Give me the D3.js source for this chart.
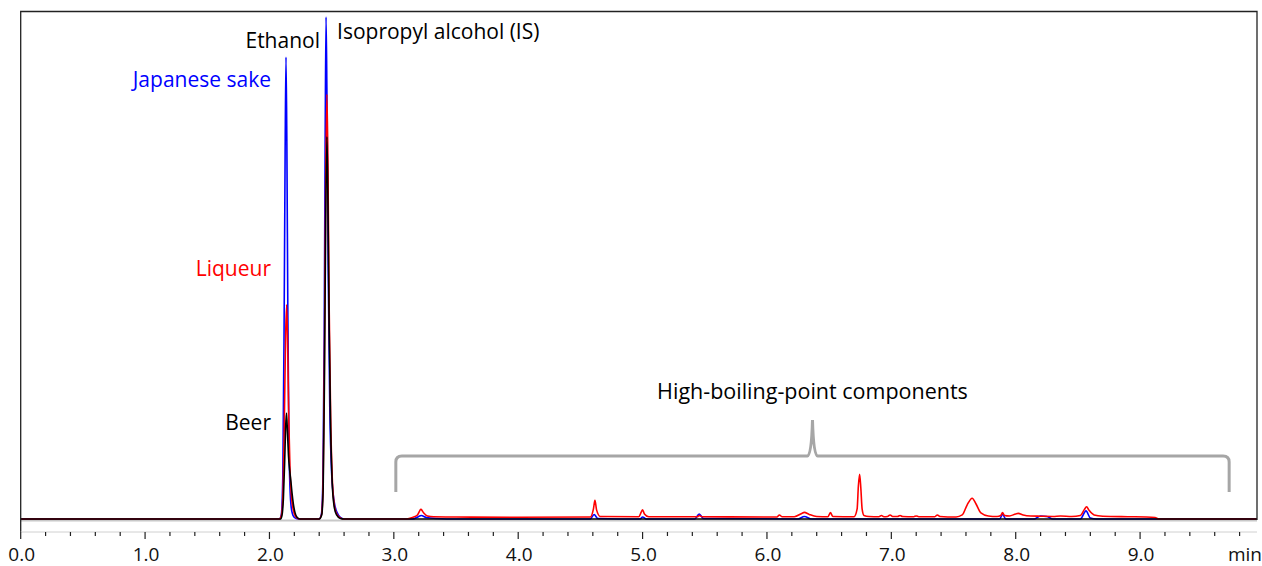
<!DOCTYPE html>
<html>
<head>
<meta charset="utf-8">
<script src="https://cdn.jsdelivr.net/npm/d3@7"></script>
<style>
  html, body { margin: 0; padding: 0; background: #fff; }
  svg { display: block; font-family: "Open Sans", "Noto Sans", sans-serif; }
</style>
</head>
<body>
<div id="chart"></div>
<script>
// retention time (min), detector signal (% of full scale)
var sakeTrace = [
  [0, 0], [2.08, 0], [2.095, 0.8], [2.107, 8], [2.117, 35], [2.126, 72], [2.133, 91], [2.14, 74],
  [2.148, 40], [2.157, 15], [2.167, 5], [2.18, 1.5], [2.2, 0.3], [2.23, 0],
  [2.40, 0], [2.418, 1], [2.43, 8], [2.44, 35], [2.448, 75], [2.455, 98.9], [2.462, 84], [2.472, 50],
  [2.485, 22], [2.5, 9], [2.52, 3.5], [2.545, 1.2], [2.57, 0.3], [2.6, 0],
  [3.15, 0], [3.2, 0.5], [3.22, 0.7], [3.26, 0.3], [3.35, 0.1], [3.5, 0],
  [4.58, 0], [4.61, 0.9], [4.64, 0.1], [4.98, 0], [5.0, 0.4], [5.03, 0],
  [5.42, 0], [5.455, 1.0], [5.49, 0.1], [6.25, 0], [6.3, 0.5], [6.36, 0],
  [7.87, 0], [7.895, 0.9], [7.92, 0], [8.15, 0], [8.2, 0.6], [8.25, 0.5], [8.3, 0],
  [8.52, 0], [8.565, 1.6], [8.6, 0.2], [8.65, 0], [9.94, 0]
];
var liqueurTrace = [
  [0, 0], [2.08, 0], [2.097, 0.8], [2.11, 6], [2.12, 20], [2.13, 36], [2.138, 42.2], [2.146, 35],
  [2.155, 20], [2.165, 10], [2.175, 5], [2.19, 2], [2.21, 0.5], [2.24, 0],
  [2.40, 0], [2.42, 1], [2.432, 8], [2.442, 32], [2.452, 66], [2.462, 83.7], [2.47, 70], [2.48, 42],
  [2.492, 20], [2.505, 8], [2.52, 3], [2.54, 1], [2.57, 0.2], [2.6, 0],
  [3.1, 0], [3.15, 0.3], [3.19, 0.8], [3.218, 1.9], [3.24, 1.2], [3.27, 0.6], [3.32, 0.45], [3.5, 0.4],
  [4.0, 0.35], [4.58, 0.4], [4.605, 2.0], [4.617, 3.7], [4.63, 1.8], [4.66, 0.5],
  [4.97, 0.45], [4.99, 1.4], [5.0, 1.8], [5.015, 1.0], [5.05, 0.45],
  [5.44, 0.45], [5.455, 0.7], [5.48, 0.45], [6.08, 0.4], [6.10, 0.8], [6.12, 0.45],
  [6.22, 0.45], [6.28, 1.1], [6.30, 1.3], [6.34, 0.9], [6.4, 0.5], [6.49, 0.45], [6.51, 1.25], [6.53, 0.5],
  [6.7, 0.45], [6.725, 2], [6.735, 6.5], [6.745, 8.8], [6.755, 6], [6.765, 2], [6.78, 0.7], [6.82, 0.5],
  [6.9, 0.45], [6.92, 0.7], [6.94, 0.45], [6.97, 0.5], [6.99, 0.8], [7.01, 0.5], [7.05, 0.5], [7.07, 0.7],
  [7.09, 0.5], [7.18, 0.45], [7.2, 0.6], [7.22, 0.45], [7.35, 0.45], [7.37, 0.8], [7.39, 0.5],
  [7.52, 0.4], [7.57, 0.8], [7.61, 2.8], [7.65, 4.1], [7.68, 3], [7.72, 1.2], [7.78, 0.6], [7.85, 0.5],
  [7.88, 0.7], [7.894, 1.25], [7.91, 0.7], [7.95, 0.6], [8.0, 1.0], [8.02, 1.1], [8.06, 0.8], [8.12, 0.6],
  [8.2, 0.55], [8.3, 0.5], [8.36, 0.6], [8.45, 0.5], [8.52, 0.7], [8.55, 1.8], [8.57, 2.4], [8.59, 1.7],
  [8.63, 0.8], [8.7, 0.55], [8.9, 0.45], [9.05, 0.4], [9.12, 0.3], [9.15, 0], [9.94, 0]
];
var beerTrace = [
  [0, 0], [2.09, 0], [2.1, 0.6], [2.112, 4], [2.122, 11], [2.13, 18], [2.137, 20.9], [2.145, 17],
  [2.153, 12.5], [2.163, 9.5], [2.172, 7.5], [2.182, 5], [2.192, 3], [2.205, 1.3], [2.22, 0.4], [2.245, 0],
  [2.40, 0], [2.42, 0.8], [2.432, 6], [2.442, 27], [2.452, 58], [2.462, 75.3], [2.47, 63], [2.48, 38],
  [2.492, 18], [2.505, 7], [2.52, 2.5], [2.54, 0.8], [2.57, 0.1], [2.6, 0], [9.94, 0]
];

var seriesNames = ["Japanese sake", "Liqueur", "Beer"];
var peakNames = ["Ethanol", "Isopropyl alcohol (IS)"];
var peakTimes = [2.133, 2.455];
var groupLabel = "High-boiling-point components";
var groupRange = [3.0, 9.7];
var majorTicks = [0, 1, 2, 3, 4, 5, 6, 7, 8, 9];
var tickLabels = ["0.0", "1.0", "2.0", "3.0", "4.0", "5.0", "6.0", "7.0", "8.0", "9.0"];
var minorTicks = d3.range(0, 50).map(function (i) { return i / 5; }).filter(function (d) { return d % 1 !== 0 && d < 9.94; });
var axisUnit = "min";

var width = 1262, height = 566;
var plotLeft = 20.7, plotRight = 1257, plotTop = 11.5, baseY = 519, axisY = 532;

var svg = d3.select("#chart").append("svg")
    .attr("width", width)
    .attr("height", height);

var x = d3.scaleLinear().domain([0, 9.94]).range([plotLeft, plotRight]);
var y = d3.scaleLinear().domain([0, 100]).range([baseY, plotTop]);

// light grey zero line under the traces
svg.append("line")
    .attr("x1", plotLeft).attr("x2", plotRight)
    .attr("y1", y(0) + 1.5).attr("y2", y(0) + 1.5)
    .attr("stroke", "#c8c8c8").attr("stroke-width", 2);

var line = d3.line()
    .x(function (d) { return x(d[0]); })
    .y(function (d) { return y(d[1]); })
    .curve(d3.curveMonotoneX);

var traces = [
  { data: sakeTrace, color: "#0000ff" },
  { data: liqueurTrace, color: "#ff0000" },
  { data: beerTrace, color: "#000000" }
];

svg.append("g").selectAll("path")
    .data(traces)
    .enter()
    .append("path")
    .attr("d", function (d) { return line(d.data); })
    .attr("fill", "none")
    .attr("stroke", function (d) { return d.color; })
    .attr("stroke-width", 1.6)
    .attr("stroke-linejoin", "round");

// frame
svg.append("path")
    .attr("d", "M" + plotLeft + "," + axisY + "V" + plotTop + "H" + plotRight + "V" + (baseY + 1))
    .attr("fill", "none")
    .attr("stroke", "#222")
    .attr("stroke-width", 1.3);

svg.append("line")
    .attr("x1", plotLeft).attr("x2", plotRight)
    .attr("y1", axisY).attr("y2", axisY)
    .attr("stroke", "#d0d0d0").attr("stroke-width", 1);

// x axis ticks
var gAxis = svg.append("g").attr("transform", "translate(0," + axisY + ")");
gAxis.selectAll(".major")
    .data(majorTicks)
    .enter().append("line")
    .attr("x1", function (d) { return x(d); }).attr("x2", function (d) { return x(d); })
    .attr("y1", 0).attr("y2", 7)
    .attr("stroke", "#222").attr("stroke-width", 1.2);
gAxis.selectAll(".minor")
    .data(minorTicks)
    .enter().append("line")
    .attr("x1", function (d) { return x(d); }).attr("x2", function (d) { return x(d); })
    .attr("y1", 0).attr("y2", 4)
    .attr("stroke", "#222").attr("stroke-width", 1.2);
gAxis.selectAll("text")
    .data(majorTicks)
    .enter().append("text")
    .attr("x", function (d) { return x(d) + 1; })
    .attr("y", 29)
    .attr("text-anchor", "middle")
    .attr("font-size", 19)
    .attr("fill", "#111")
    .text(function (d, i) { return tickLabels[i]; });
gAxis.append("text")
    .attr("x", width)
    .attr("y", 29)
    .attr("text-anchor", "end")
    .attr("font-size", 19)
    .attr("fill", "#111")
    .text(axisUnit);

// peak labels
svg.append("text")
    .attr("x", x(peakTimes[0]) + 34).attr("y", 48)
    .attr("text-anchor", "end").attr("font-size", 21).attr("fill", "#000")
    .text(peakNames[0]);
svg.append("text")
    .attr("x", x(peakTimes[1]) + 11).attr("y", 39)
    .attr("text-anchor", "start").attr("font-size", 21).attr("fill", "#000")
    .text(peakNames[1]);

// series labels next to the ethanol peaks
var seriesColors = ["#0000ff", "#ff0000", "#000000"];
var seriesLabelY = [87, 276, 430];
svg.append("g").selectAll("text")
    .data(seriesNames)
    .enter().append("text")
    .attr("x", x(peakTimes[0]) - 15)
    .attr("y", function (d, i) { return seriesLabelY[i]; })
    .attr("text-anchor", "end")
    .attr("font-size", 21)
    .attr("fill", function (d, i) { return seriesColors[i]; })
    .text(function (d) { return d; });

// bracket over the high-boiling-point region
var bx0 = x(groupRange[0]) + 2, bx1 = x(groupRange[1]) + 2;
var bmid = (bx0 + bx1) / 2;
var bTop = 456, bEnd = 492, bTip = 420, r = 6;
var bracket = d3.path();
bracket.moveTo(bx0, bEnd);
bracket.lineTo(bx0, bTop + r);
bracket.quadraticCurveTo(bx0, bTop, bx0 + r, bTop);
bracket.lineTo(bmid - 5, bTop);
bracket.quadraticCurveTo(bmid - 1, bTop, bmid, bTip);
bracket.quadraticCurveTo(bmid + 1, bTop, bmid + 5, bTop);
bracket.lineTo(bx1 - r, bTop);
bracket.quadraticCurveTo(bx1, bTop, bx1, bTop + r);
bracket.lineTo(bx1, bEnd);
svg.append("path")
    .attr("d", bracket.toString())
    .attr("fill", "none")
    .attr("stroke", "#a6a6a6")
    .attr("stroke-width", 3);

svg.append("text")
    .attr("x", bmid).attr("y", 399)
    .attr("text-anchor", "middle").attr("font-size", 21.5).attr("fill", "#000")
    .text(groupLabel);
</script>
</body>
</html>
